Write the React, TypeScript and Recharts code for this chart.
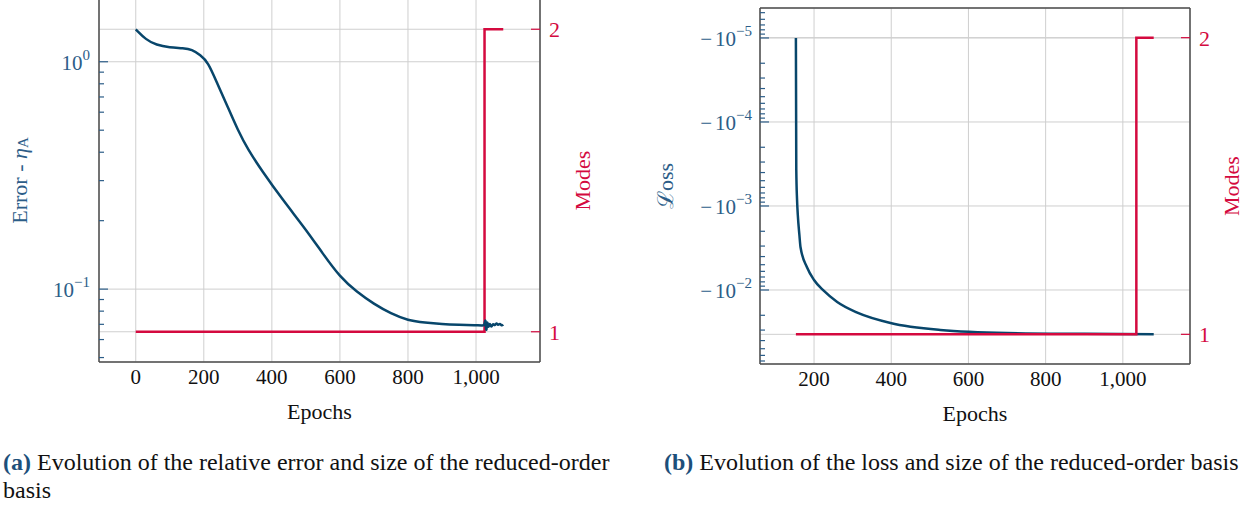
import React from "react";
import { LineChart, Line, XAxis, YAxis, CartesianGrid, ReferenceLine, Label } from "recharts";

const BLUE = "#08466b";
const BLUE_TXT = "#2c5d88";
const RED = "#d40a3f";
const GRID = "#cfcfcf";
const FRAME = "#4d4d4d";
const FONT = "'Liberation Serif', 'DejaVu Serif', serif";

// (a) relative error vs epochs
const errEpochs = [
  0, 30, 60, 100, 140, 165, 190, 212, 240, 270, 300, 330, 370, 430, 500, 550, 600, 650, 700, 750, 800, 850,
  900, 950, 1000, 1020, 1025, 1028, 1030, 1033, 1036, 1040, 1045, 1050, 1055, 1060, 1065, 1070, 1075, 1080,
];
const errValues = [
  1.388, 1.25, 1.185, 1.156, 1.148, 1.134, 1.07, 1.0, 0.8, 0.635, 0.5, 0.41, 0.333, 0.249, 0.183, 0.143,
  0.113, 0.097, 0.086, 0.078, 0.0728, 0.0712, 0.0702, 0.0697, 0.0693, 0.0692, 0.069, 0.076, 0.062, 0.075,
  0.066, 0.072, 0.067, 0.0712, 0.0685, 0.0715, 0.069, 0.071, 0.0688, 0.0698,
];
const modesAEpochs = [0, 1025, 1080];
const modesAValues = [1, 2, 2];

// (b) loss vs epochs
const lossEpochs = [153, 154, 156, 158, 162, 165, 182, 200, 225, 260, 312, 398, 527, 700, 900, 1080];
const lossValues = [
  -1e-5, -3.7e-4, -8.5e-4, -1.29e-3, -2.2e-3, -3.1e-3, -5.4e-3, -7.6e-3, -1.02e-2, -1.39e-2, -1.86e-2,
  -2.47e-2, -2.99e-2, -3.25e-2, -3.32e-2, -3.36e-2,
];
const modesBEpochs = [153, 1035, 1080];
const modesBValues = [1, 2, 2];

const epochTicksA = [0, 200, 400, 600, 800, 1000];
const epochTicksB = [200, 400, 600, 800, 1000];
const errMajor = [0.1, 1];
const errMinor = [0.05, 0.06, 0.07, 0.08, 0.09, 0.2, 0.3, 0.4, 0.5, 0.6, 0.7, 0.8, 0.9];
const lossMajor = [1e-5, 1e-4, 1e-3, 1e-2];
const modeTicks = [1, 2];

// minor ticks 2..9 x 10^d inside the loss axis range
const lossMinor: number[] = [];
[-6, -5, -4, -3, -2].forEach((d) => {
  for (let k = 2; k <= 9; k++) {
    const v = k * Math.pow(10, d);
    if (v > 4.4e-6 && v < 0.076) lossMinor.push(v);
  }
});

const errData = errEpochs.map((e, i) => ({ epoch: e, err: errValues[i] }));
const modesAData = modesAEpochs.map((e, i) => ({ epoch: e, modes: modesAValues[i] }));
const lossData = lossEpochs.map((e, i) => ({ epoch: e, loss: Math.abs(lossValues[i]) }));
const modesBData = modesBEpochs.map((e, i) => ({ epoch: e, modes: modesBValues[i] }));

const TICK_FS = 21;

const EpochTick = ({ x, y, payload }: any) => (
  <text x={x} y={y + 22} textAnchor="middle" fontFamily={FONT} fontSize={TICK_FS} fill="#111">
    {payload.value.toLocaleString("en-US")}
  </text>
);

const ErrTick = ({ x, y, payload }: any) => {
  const major = errMajor.includes(payload.value);
  const exp = Math.round(Math.log10(payload.value));
  return (
    <g>
      <line x1={x} x2={x + (major ? 9 : 5)} y1={y} y2={y} stroke={BLUE_TXT} strokeWidth={1.2} />
      {major && (
        <text x={x - 9} y={y + 8} textAnchor="end" fontFamily={FONT} fontSize={TICK_FS} fill={BLUE_TXT}>
          10
          <tspan dy={-10} fontSize={15}>
            {exp === 0 ? "0" : "\u2212" + Math.abs(exp)}
          </tspan>
        </text>
      )}
    </g>
  );
};

const LossTick = ({ x, y, payload }: any) => {
  const major = lossMajor.includes(payload.value);
  const exp = Math.round(Math.log10(payload.value));
  return (
    <g>
      <line x1={x} x2={x + (major ? 9 : 5)} y1={y} y2={y} stroke={BLUE_TXT} strokeWidth={1.2} />
      {major && (
        <text x={x - 8} y={y + 8} textAnchor="end" fontFamily={FONT} fontSize={TICK_FS} fill={BLUE_TXT}>
          {"\u2212"}
          <tspan dx={3}>10</tspan>
          <tspan dy={-10} fontSize={15}>
            {"\u2212" + Math.abs(exp)}
          </tspan>
        </text>
      )}
    </g>
  );
};

const ModeTick = ({ x, y, payload }: any) => (
  <g>
    <line x1={x - 9} x2={x} y1={y} y2={y} stroke={RED} strokeWidth={1.2} />
    <text x={x + 9} y={y + 8} fontFamily={FONT} fontSize={TICK_FS + 1} fill={RED}>
      {payload.value}
    </text>
  </g>
);

const EpochLabel = ({ viewBox }: any) => (
  <text x={viewBox.x + viewBox.width / 2} y={viewBox.y + 57} textAnchor="middle" fontFamily={FONT} fontSize={22} fill="#111">
    Epochs
  </text>
);

const vertTitle = (dx: number, color: string, content: React.ReactNode) => ({ viewBox }: any) => {
  const cx = viewBox.x + dx;
  const cy = viewBox.y + viewBox.height / 2;
  return (
    <text
      x={cx}
      y={cy}
      transform={`rotate(-90, ${cx}, ${cy})`}
      textAnchor="middle"
      dominantBaseline="central"
      fontFamily={FONT}
      fontSize={22}
      fill={color}
    >
      {content}
    </text>
  );
};

const ErrTitle = vertTitle(19, BLUE_TXT, (
  <>
    Error -{" "}
    <tspan fontStyle="italic">η</tspan>
    <tspan fontSize={15} dy={4}>
      A
    </tspan>
  </>
));
const LossTitle = vertTitle(25, BLUE_TXT, "\u2112oss");
const ModesTitleA = vertTitle(42, RED, "Modes");
const ModesTitleB = vertTitle(41, RED, "Modes");

const axisLine = { stroke: FRAME, strokeWidth: 1.5 };

const ErrorChart = () => (
  <LineChart width={620} height={450} margin={{ top: 9, right: 0, bottom: 0, left: 0 }}>
    <CartesianGrid stroke={GRID} yAxisId="modes" />
    <ReferenceLine yAxisId="err" y={1} stroke={GRID} />
    <ReferenceLine yAxisId="err" y={0.1} stroke={GRID} />
    <XAxis
      type="number"
      dataKey="epoch"
      domain={[-108, 1188]}
      ticks={epochTicksA}
      interval={0}
      height={78}
      tickSize={0}
      tickMargin={0}
      tick={<EpochTick />}
      axisLine={axisLine}
      allowDataOverflow
    >
      <Label content={<EpochLabel />} />
    </XAxis>
    <YAxis
      yAxisId="err"
      scale="log"
      domain={[0.0478, 1.888]}
      ticks={[...errMinor, ...errMajor]}
      interval={0}
      width={99}
      tickSize={0}
      tickMargin={0}
      tick={<ErrTick />}
      axisLine={axisLine}
      allowDataOverflow
    >
      <Label content={<ErrTitle />} />
    </YAxis>
    <YAxis
      yAxisId="modes"
      orientation="right"
      domain={[0.9, 2.1]}
      ticks={modeTicks}
      interval={0}
      width={80}
      tickSize={0}
      tickMargin={0}
      tick={<ModeTick />}
      axisLine={axisLine}
      allowDataOverflow
    >
      <Label content={<ModesTitleA />} />
    </YAxis>
    <Line
      yAxisId="modes"
      data={modesAData}
      dataKey="modes"
      type="stepAfter"
      stroke={RED}
      strokeWidth={2.5}
      dot={false}
      isAnimationActive={false}
    />
    <Line
      yAxisId="err"
      data={errData}
      dataKey="err"
      type="basis"
      stroke={BLUE}
      strokeWidth={2.5}
      dot={false}
      isAnimationActive={false}
    />
  </LineChart>
);

const LossChart = () => (
  <LineChart width={611} height={450} margin={{ top: 8, right: 0, bottom: 0, left: 0 }}>
    <CartesianGrid stroke={GRID} yAxisId="modes" />
    {lossMajor.map((v) => (
      <ReferenceLine key={v} yAxisId="loss" y={v} stroke={GRID} />
    ))}
    <ReferenceLine yAxisId="modes" y={2.1} stroke={FRAME} strokeWidth={1.5} ifOverflow="visible" />
    <XAxis
      type="number"
      dataKey="epoch"
      domain={[60, 1174]}
      ticks={epochTicksB}
      interval={0}
      height={86}
      tickSize={0}
      tickMargin={0}
      tick={<EpochTick />}
      axisLine={axisLine}
      allowDataOverflow
    >
      <Label content={<EpochLabel />} />
    </XAxis>
    <YAxis
      yAxisId="loss"
      scale="log"
      reversed
      domain={[4.4e-6, 0.076]}
      ticks={[...lossMinor, ...lossMajor]}
      interval={0}
      width={120}
      tickSize={0}
      tickMargin={0}
      tick={<LossTick />}
      axisLine={axisLine}
      allowDataOverflow
    >
      <Label content={<LossTitle />} />
    </YAxis>
    <YAxis
      yAxisId="modes"
      orientation="right"
      domain={[0.9, 2.1]}
      ticks={modeTicks}
      interval={0}
      width={61}
      tickSize={0}
      tickMargin={0}
      tick={<ModeTick />}
      axisLine={axisLine}
      allowDataOverflow
    >
      <Label content={<ModesTitleB />} />
    </YAxis>
    <Line
      yAxisId="loss"
      data={lossData}
      dataKey="loss"
      type="monotone"
      stroke={BLUE}
      strokeWidth={2.5}
      dot={false}
      isAnimationActive={false}
    />
    <Line
      yAxisId="modes"
      data={modesBData}
      dataKey="modes"
      type="stepAfter"
      stroke={RED}
      strokeWidth={2.5}
      dot={false}
      isAnimationActive={false}
    />
  </LineChart>
);

const captionStyle: React.CSSProperties = {
  position: "absolute",
  fontFamily: FONT,
  fontSize: 24,
  lineHeight: "28px",
  color: "#111",
  whiteSpace: "nowrap",
};

export default function App() {
  return (
    <div style={{ position: "absolute", left: 0, top: 0, width: 1251, height: 509, overflow: "hidden", background: "#fff" }}>
      <div style={{ position: "absolute", left: 0, top: -10 }}>
        <ErrorChart />
      </div>
      <div style={{ position: "absolute", left: 640, top: 0 }}>
        <LossChart />
      </div>
      <div style={{ ...captionStyle, left: 3, top: 448 }}>
        <b style={{ color: "#1d4f7a" }}>(a)</b> Evolution of the relative error and size of the reduced-order
      </div>
      <div style={{ ...captionStyle, left: 3, top: 476 }}>basis</div>
      <div style={{ ...captionStyle, left: 664, top: 448 }}>
        <b style={{ color: "#1d4f7a" }}>(b)</b> Evolution of the loss and size of the reduced-order basis
      </div>
    </div>
  );
}
